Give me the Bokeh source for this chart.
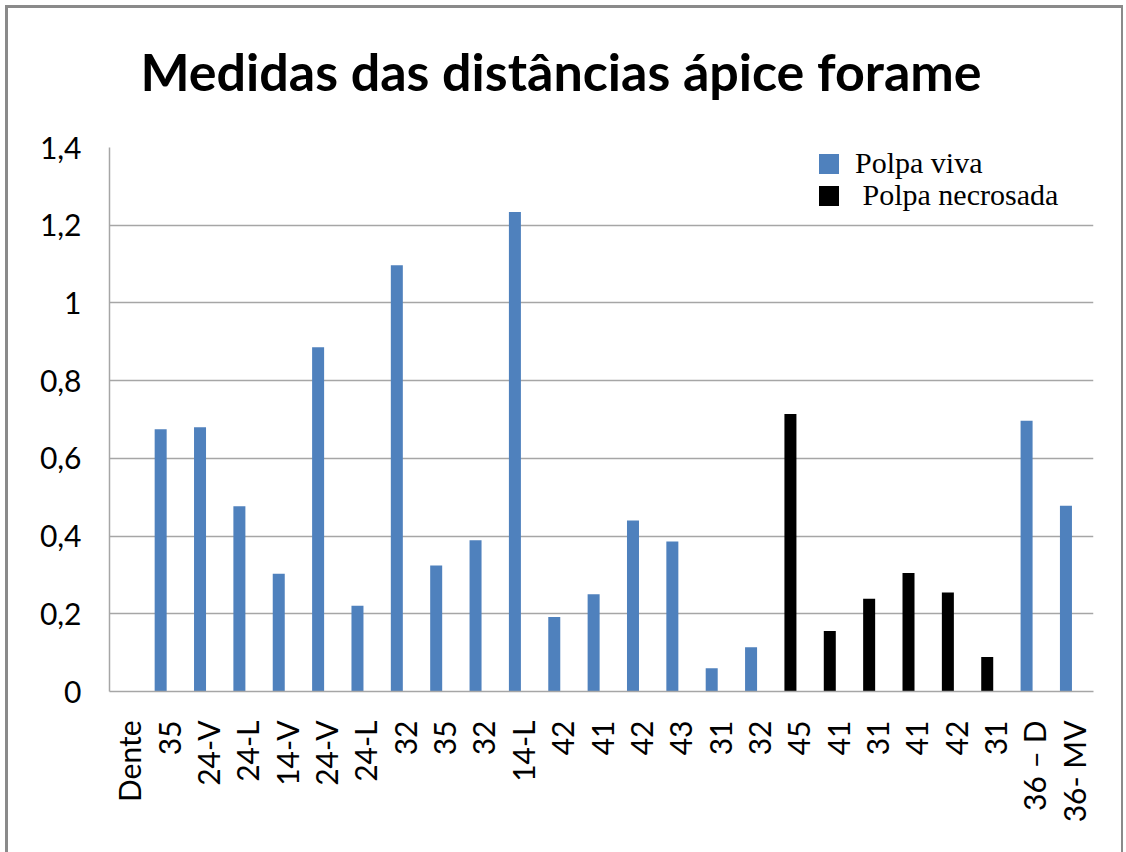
import math
from bokeh.plotting import figure
from bokeh.models import (Range1d, FixedTicker, CustomJSTickFormatter, Legend, LegendItem,
                          ColumnDataSource, Title)
from bokeh.transform import dodge
from bokeh.embed import file_html
from bokeh.resources import INLINE

# ---- data ----
categories = ["Dente", "35", "24-V", "24-L", "14-V", "24-V", "24-L", "32", "35", "32", "14-L",
              "42", "41", "42", "43", "31", "32", "45", "41", "31", "41", "42", "31",
              "36 \u2013 D", "36- MV"]
polpa_viva = [None, 0.675, 0.680, 0.477, 0.303, 0.886, 0.221, 1.097, 0.324, 0.389, 1.234,
              0.192, 0.250, 0.440, 0.386, 0.060, 0.114, None, None, None, None, None, None,
              0.697, 0.478]
polpa_necrosada = [None, None, None, None, None, None, None, None, None, None, None,
                   None, None, None, None, None, None, 0.714, 0.156, 0.239, 0.305, 0.255, 0.089,
                   None, None]
y_ticks = [0, 0.2, 0.4, 0.6, 0.8, 1, 1.2, 1.4]
title_text = "Medidas das distâncias ápice forame"
series_names = ["Polpa viva", " Polpa necrosada"]

idx = list(range(len(categories)))
src = ColumnDataSource(dict(
    x=idx,
    viva=[v if v is not None else float("nan") for v in polpa_viva],
    necro=[v if v is not None else float("nan") for v in polpa_necrosada],
))

p = figure(frame_width=984, frame_height=544,
           min_border_left=101, min_border_right=28, min_border_top=139, min_border_bottom=161,
           x_range=Range1d(-0.5, len(categories) - 0.5), y_range=Range1d(0, 1.4),
           output_backend="svg", toolbar_location=None, tools="")
p.styles = {"margin-left": "5px", "margin-top": "5px",
            "border-left": "3px solid #8a8a8a", "border-top": "3px solid #8a8a8a",
            "border-right": "2px solid #8a8a8a"}

p.outline_line_color = None
p.background_fill_color = "white"
p.border_fill_color = "white"

# spacer panel between the frame and the title
spacer = Title(text=" ", text_font="Lato", text_font_size="20px", standoff=20)
p.add_layout(spacer, "above")
t = Title(text=title_text, align="left", vertical_align="bottom", text_font="Lato",
          text_font_style="bold", text_font_size="52px", text_color="black",
          standoff=0, offset=31)
p.add_layout(t, "above")

r1 = p.vbar(x=dodge("x", -0.2), top="viva", width=0.305, source=src,
            fill_color="#4F81BD", line_color=None)
r2 = p.vbar(x=dodge("x", -0.2), top="necro", width=0.305, source=src,
            fill_color="black", line_color=None)

# axes
p.yaxis.ticker = FixedTicker(ticks=y_ticks)
p.yaxis.formatter = CustomJSTickFormatter(code="return String(tick).replace('.', ',');")
p.xaxis.ticker = FixedTicker(ticks=idx)
p.xaxis.major_label_overrides = {i: c for i, c in enumerate(categories)}
p.xaxis.major_label_orientation = math.pi / 2
for ax in (p.xaxis, p.yaxis):
    ax.axis_line_color = "#a6a6a6"
    ax.axis_line_width = 1.5
    ax.major_tick_line_color = None
    ax.minor_tick_line_color = None
    ax.major_label_text_font = "Lato"
    ax.major_label_text_font_size = "30px"
    ax.major_label_text_color = "black"
p.yaxis.major_label_standoff = 22
p.xaxis.major_label_standoff = 23

p.xgrid.grid_line_color = None
p.ygrid.ticker = FixedTicker(ticks=y_ticks)
p.ygrid.grid_line_color = "#a6a6a6"
p.ygrid.grid_line_width = 1.3

legend_style = dict(orientation="vertical", glyph_width=25, glyph_height=25,
                    label_standoff=14, spacing=0,
                    label_text_font="Liberation Serif", label_text_font_size="30px",
                    label_text_color="black", background_fill_alpha=0,
                    border_line_color=None, padding=8, margin=0)
legend1 = Legend(items=[LegendItem(label=series_names[0], renderers=[r1])],
                 location=(707, 511), **legend_style)
legend2 = Legend(items=[LegendItem(label=series_names[1], renderers=[r2])],
                 location=(707, 479), **legend_style)
p.add_layout(legend1)
p.add_layout(legend2)

open("out.html", "w").write(file_html(p, INLINE))
